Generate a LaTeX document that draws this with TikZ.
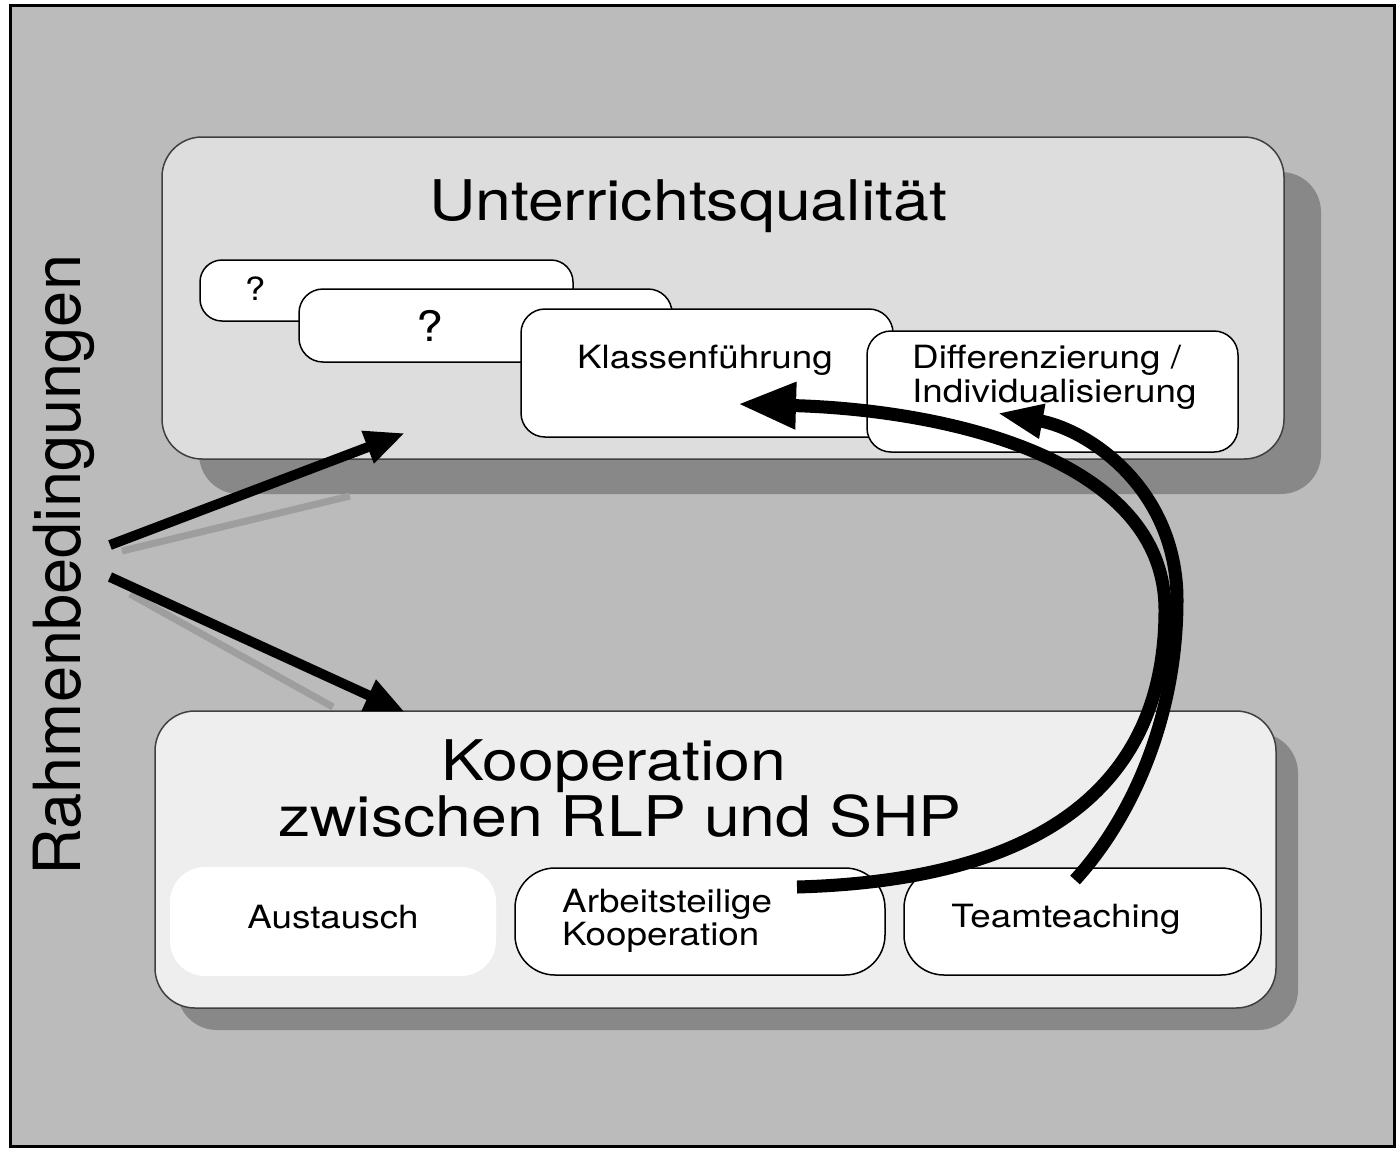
\documentclass[tikz,border=0pt]{standalone}
\usepackage{fontspec}
\setmainfont{TeX Gyre Heros}
\newfontfamily\widefont{TeX Gyre Heros}[FakeStretch=1.15]
\usetikzlibrary{arrows.meta}
\definecolor{bggray}{HTML}{BBBBBB}
\definecolor{topgray}{HTML}{DDDDDD}
\definecolor{botgray}{HTML}{EEEEEE}
\definecolor{shadegray}{HTML}{888888}
\definecolor{arrowshade}{HTML}{9E9E9E}
\begin{document}
\begin{tikzpicture}[x=1pt,y=-1pt,
  bigbox/.style={draw=black!75,line width=1.5pt,rounded corners=40pt,inner sep=0pt},
  smallbox/.style={draw,fill=white,line width=1.5pt,rounded corners=24pt,inner sep=0pt},
  titletext/.style={font=\widefont\fontsize{56}{56}\selectfont,anchor=base,inner sep=0pt},
  smalltext/.style={font=\widefont\fontsize{32}{32}\selectfont,anchor=base,inner sep=0pt},
  fatarrow/.style={line width=10pt,-{Triangle[length=40pt,width=32pt]}},
  curvearrow/.style={line width=13pt}]
\useasboundingbox (0,0) rectangle (1397,1149);
\fill[bggray] (10,5) rectangle (1394,1146);
\draw[line width=3pt] (10,5) rectangle (1394,1146);
% Unterrichtsqualitaet
\fill[shadegray,rounded corners=40pt] (199,172) rectangle (1321,494);
\node[bigbox,fill=topgray,minimum width=1122pt,minimum height=322pt] (uq) at (723,298) {};
\node[titletext] (uqtitle) at (688,220) {Unterrichtsqualität};
\node[smallbox,minimum width=373pt,minimum height=61pt,rounded corners=22pt] (qa) at (386.5,290.5) {};
\node[smalltext] (qatext) at (255,300) {?};
\node[smallbox,minimum width=373pt,minimum height=73pt] (qb) at (485.5,325.5) {};
\node[smalltext,font=\widefont\fontsize{42}{42}\selectfont] (qbtext) at (430,341) {?};
\node[smallbox,minimum width=372pt,minimum height=128pt] (kf) at (707,373) {};
\node[smalltext] (kftext) at (705,368) {Klassenführung};
\node[smallbox,minimum width=371pt,minimum height=121pt] (di) at (1052.5,391.5) {};
\node[smalltext,anchor=base west] (ditext) at (912,368) {Differenzierung /};
\node[smalltext,anchor=base west] (ditext2) at (912,402) {Individualisierung};
% Kooperation
\fill[shadegray,rounded corners=40pt] (177,733) rectangle (1298,1030);
\node[bigbox,fill=botgray,minimum width=1121pt,minimum height=297pt] (ko) at (715.5,859.5) {};
\node[titletext] (kotitle) at (614,780) {Kooperation};
\node[titletext] (kotitle2) at (620,836) {zwischen RLP und SHP};
\node[smallbox,draw=none,minimum width=326pt,minimum height=109pt,rounded corners=35pt] (au) at (333,921.5) {};
\node[smalltext] (autext) at (333,928) {Austausch};
\node[smallbox,minimum width=370pt,minimum height=107pt,rounded corners=40pt] (ak) at (700,921.5) {};
\node[smalltext,anchor=base west] (aktext) at (562,912) {Arbeitsteilige};
\node[smalltext,anchor=base west] (aktext2) at (562,945) {Kooperation};
\node[smallbox,minimum width=357pt,minimum height=107pt,rounded corners=40pt] (tt) at (1082.5,921.5) {};
\node[smalltext] (tttext) at (1066,927) {Teamteaching};
% Rahmenbedingungen
\node[font=\fontsize{65}{65}\selectfont,rotate=90,anchor=base,inner sep=0pt] (rb) at (80,565) {Rahmenbedingungen};
\coordinate (rbup) at (110,545);
\coordinate (rbdown) at (110,577);
\coordinate (uqin) at (405,433);
\coordinate (koin) at (405,712);
\draw[arrowshade,line width=7pt] (122,551) -- (350,496);
\draw[arrowshade,line width=7pt] (130,594) -- (333,707);
\draw[fatarrow] (rbup) -- (uqin);
\draw[fatarrow] (rbdown) -- (koin);
% Kooperation -> Unterricht
\coordinate (akout) at (797,887);
\coordinate (kfin) at (738,404);
\coordinate (ttout) at (1075,880);
\coordinate (diin) at (997,413);
\draw[curvearrow,-{Triangle[length=58pt,width=44pt]}] (akout) .. controls (1050,880) and (1165,780) .. (1165,610)
  .. controls (1165,460) and (950,410) .. (kfin);
\draw[curvearrow,-{Triangle[length=46pt,width=32pt]}] (ttout) .. controls (1130,820) and (1177,720) .. (1177,600)
  .. controls (1177,490) and (1090,430) .. (diin);
\end{tikzpicture}
\end{document}
